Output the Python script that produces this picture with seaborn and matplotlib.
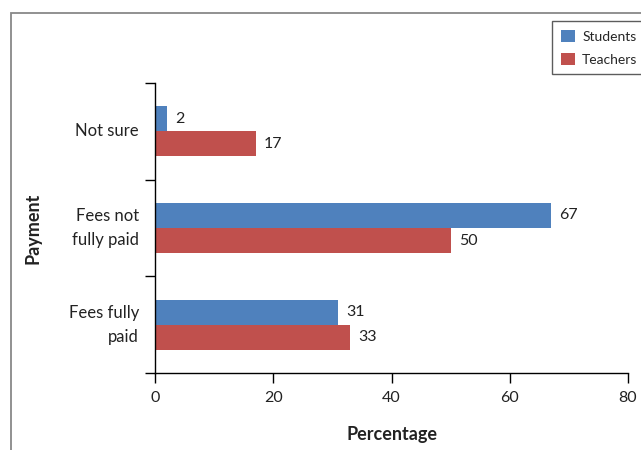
import matplotlib
matplotlib.use("Agg")
import matplotlib.pyplot as plt
import seaborn as sns
import pandas as pd
from matplotlib.patches import Rectangle, Patch

categories = ["Not sure", "Fees not\nfully paid", "Fees fully\npaid"]
students = [2, 67, 31]
teachers = [17, 50, 33]
series_names = ["Students", "Teachers"]
colors = ["#4F81BD", "#C0504D"]

df = pd.DataFrame({
    "Payment": categories * 2,
    "Percentage": students + teachers,
    "Group": [series_names[0]] * 3 + [series_names[1]] * 3,
})

sns.set_style("white")
plt.rcParams["font.family"] = ["Lato", "DejaVu Sans"]

fig = plt.figure(figsize=(6.41, 4.5), dpi=100)
ax = fig.add_axes([155 / 641, 1 - 373 / 450, (628 - 155) / 641, (373 - 83) / 450])

sns.barplot(data=df, y="Payment", x="Percentage", hue="Group", order=categories,
            hue_order=series_names, palette=colors, orient="h", width=0.52,
            saturation=1, ax=ax, legend=False, errorbar=None, linewidth=0)

for cont in ax.containers:
    ax.bar_label(cont, padding=6, fontsize=11.5, color="#222222")

ax.set_xlim(0, 80)
ax.set_ylim(2.5, -0.5)
ax.set_xticks([0, 20, 40, 60, 80])
ax.tick_params(axis="x", bottom=True, length=7, width=1, color="black", labelsize=11.5,
               labelcolor="#222222", pad=6, direction="out")
ax.tick_params(axis="y", which="major", left=True, length=0, labelsize=12,
               labelcolor="#222222", pad=11.5)
ax.set_yticks([-0.5, 0.5, 1.5, 2.5], minor=True)
ax.tick_params(axis="y", which="minor", left=True, length=7, width=1, color="black",
               direction="out")
for lbl in ax.get_yticklabels():
    lbl.set_horizontalalignment("right")
    lbl.set_verticalalignment("center")
    lbl.set_multialignment("right")
    lbl.set_linespacing(1.6)

for s in ["top", "right"]:
    ax.spines[s].set_visible(False)
for s in ["left", "bottom"]:
    ax.spines[s].set_color("black")
    ax.spines[s].set_linewidth(1)

ax.set_xlabel("Percentage", fontsize=13, fontweight="bold", color="#222222", labelpad=15)
ax.set_ylabel("Payment", fontsize=13, fontweight="bold", color="#222222", labelpad=19.5)

# outer frame
fig.patches.append(Rectangle((11 / 641, -0.1), 1.2, 1 - 13 / 450 + 0.1,
                             transform=fig.transFigure, fill=False,
                             edgecolor="#888888", linewidth=1.3, zorder=0))

handles = [Patch(facecolor=c, edgecolor="none") for c in colors]
leg = fig.legend(handles, series_names, loc="upper left",
                 bbox_to_anchor=(552 / 641, 1 - 21 / 450), fontsize=10,
                 frameon=True, fancybox=False, edgecolor="#333333",
                 handlelength=1.05, handleheight=1.05, handletextpad=0.5,
                 borderpad=0.62, labelspacing=0.7, borderaxespad=0)
leg.get_frame().set_linewidth(1)

fig.savefig("out.png", dpi=100)
